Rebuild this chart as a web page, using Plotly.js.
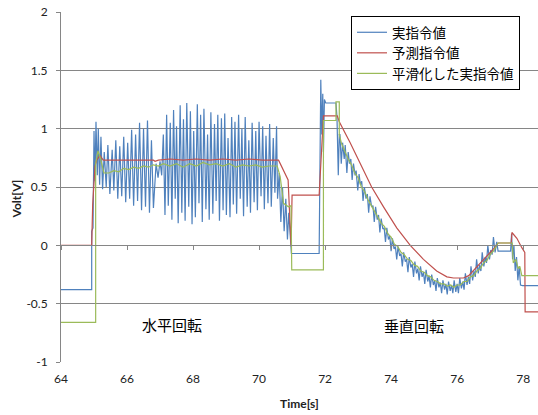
<!DOCTYPE html>
<html><head><meta charset="utf-8">
<script src="https://cdn.plot.ly/plotly-3.0.1.min.js"></script>
<style>html,body{margin:0;padding:0;background:#fff}#chart{width:538px;height:415px}</style>
</head><body><div id="chart"></div>
<script>
const seriesNames = ['実指令値', '予測指令値', '平滑化した実指令値'];
const seriesColors = ['#4F81BD', '#C0504D', '#9BBB59'];
const xTickVals = [64, 66, 68, 70, 72, 74, 76, 78];
const yTickVals = [-1, -0.5, 0, 0.5, 1, 1.5, 2];
const yTickText = ['-1', '-0.5', '0', '0.5', '1', '1.5', '2'];
const annotationTexts = ['水平回転', '垂直回転'];

// [time, volt]
const bluePoints = [
[64,-0.38],[64.93,-0.38],[64.93,0.12],[64.97,0.15],[65.0,0.98],
[65.03,0.55],[65.06,1.06],[65.10,0.60],[65.13,1.00],[65.17,0.52],[65.21,0.93],[65.26,0.48],[65.31,0.80],
[65.37,0.50],[65.42,0.86],[65.48,0.44],[65.55,0.82],[65.60,0.47],[65.66,0.90],[65.72,0.40],[65.78,0.85],
[65.84,0.42],[65.90,0.93],[65.96,0.37],[66.02,0.88],[66.08,0.40],[66.14,0.99],[66.20,0.34],[66.26,0.95],
[66.32,0.38],[66.38,1.05],[66.44,0.30],[66.50,1.00],[66.56,0.33],[66.62,1.07],[66.68,0.28],[66.74,0.90],
[66.80,0.32],[66.88,0.70],[66.94,0.58],[67.00,0.72],[67.05,0.60],[67.10,0.95],[67.15,0.26],
[67.20,1.12],[67.25,0.34],[67.31,1.05],[67.36,0.22],[67.41,1.16],[67.46,0.40],[67.50,1.02],[67.55,0.19],
[67.61,1.20],[67.66,0.28],[67.71,1.08],[67.76,0.21],[67.81,1.22],[67.87,0.33],[67.92,1.15],[67.97,0.18],
[68.02,0.98],[68.07,0.24],[68.13,1.21],[68.18,0.36],[68.23,1.12],[68.28,0.20],[68.33,1.17],[68.39,0.31],
[68.44,0.95],[68.49,0.22],[68.54,1.14],[68.60,0.27],[68.65,1.04],[68.70,0.38],[68.75,1.12],[68.80,0.21],
[68.86,1.09],[68.91,0.30],[68.96,1.13],[69.01,0.26],[69.06,0.92],[69.12,0.24],[69.17,1.10],[69.22,0.35],
[69.27,1.06],[69.32,0.27],[69.38,1.12],[69.43,0.40],[69.48,1.00],[69.53,0.25],[69.58,1.10],[69.64,0.33],
[69.69,0.90],[69.74,0.28],[69.79,1.05],[69.85,0.37],[69.90,0.98],[69.95,0.30],[70.00,1.06],[70.06,0.42],
[70.11,1.02],[70.16,0.31],[70.21,0.94],[70.27,0.36],[70.32,1.04],[70.37,0.33],[70.43,0.92],[70.48,0.45],
[70.53,1.02],[70.56,0.40],[70.61,0.62],[70.66,0.20],[70.71,0.50],[70.76,0.12],[70.81,0.40],[70.86,0.05],
[70.90,0.28],[70.95,0.00],[70.98,-0.07],[71.82,-0.07],
[71.85,1.20],[71.87,1.42],[71.90,0.95],[71.93,1.30],[71.95,0.80],[71.98,1.25],[72.02,1.22],[72.33,1.22],
[72.36,1.10],[72.40,0.60],[72.43,0.95],
[72.45,0.95],[72.49,0.70],[72.53,0.88],[72.58,0.74],[72.61,0.86],[72.66,0.62],[72.70,0.80],[72.74,0.70],
[72.78,0.74],[72.82,0.56],[72.86,0.70],[72.91,0.60],[72.94,0.64],[72.99,0.47],[73.03,0.61],[73.07,0.52],
[73.11,0.55],[73.15,0.38],[73.19,0.50],[73.24,0.40],[73.28,0.44],[73.32,0.28],[73.36,0.42],[73.41,0.33],
[73.45,0.34],[73.49,0.20],[73.53,0.33],[73.58,0.22],[73.62,0.26],[73.66,0.11],[73.70,0.23],[73.75,0.14],
[73.79,0.15],[73.83,0.03],[73.87,0.15],[73.92,0.05],[73.96,0.08],[74.00,-0.05],[74.04,0.06],[74.09,-0.03],
[74.13,-0.01],[74.17,-0.12],[74.21,-0.01],[74.26,-0.09],[74.30,-0.07],[74.34,-0.18],[74.38,-0.06],[74.43,-0.14],
[74.47,-0.12],[74.51,-0.23],[74.55,-0.10],[74.60,-0.19],[74.64,-0.16],[74.68,-0.27],[74.72,-0.14],[74.77,-0.24],
[74.81,-0.20],[74.85,-0.30],[74.89,-0.18],[74.94,-0.27],[74.98,-0.23],[75.02,-0.33],[75.06,-0.21],[75.11,-0.31],
[75.15,-0.26],[75.19,-0.36],[75.23,-0.25],[75.28,-0.34],[75.32,-0.30],[75.36,-0.39],[75.40,-0.28],[75.45,-0.36],
[75.49,-0.32],[75.53,-0.41],[75.57,-0.30],[75.62,-0.38],[75.66,-0.33],[75.70,-0.42],[75.74,-0.31],[75.79,-0.39],
[75.83,-0.34],[75.87,-0.41],[75.91,-0.30],[75.96,-0.40],[76.00,-0.33],[76.04,-0.41],[76.08,-0.28],[76.13,-0.37],
[76.17,-0.31],[76.21,-0.38],[76.25,-0.24],[76.30,-0.34],[76.34,-0.27],[76.38,-0.33],[76.42,-0.18],[76.47,-0.30],
[76.51,-0.22],[76.55,-0.27],[76.59,-0.12],[76.64,-0.24],[76.68,-0.17],[76.72,-0.22],[76.76,-0.06],[76.81,-0.18],
[76.85,-0.10],[76.89,-0.15],[76.93,0.00],[76.98,-0.12],[77.02,-0.04],[77.06,-0.08],[77.10,0.07],[77.15,-0.06],
[77.20,0.03],[77.24,-0.05],[77.62,-0.05],[77.65,0.10],[77.68,-0.12],[77.72,0.00],[77.76,-0.22],[77.80,-0.10],
[77.84,-0.30],[77.88,-0.18],[77.92,-0.34],[77.98,-0.345],[78.5,-0.345]
];

const redPoints = [
[64,0],[64.93,0],[64.96,0.35],[65.0,0.55],[65.03,0.68],[65.08,0.73],[65.18,0.77],[65.28,0.73],
[65.8,0.73],[66.3,0.73],[66.8,0.73],[66.85,0.72],[66.95,0.73],[67.3,0.74],[67.7,0.73],[68.1,0.74],
[68.5,0.73],[68.9,0.74],[69.3,0.73],[69.7,0.74],[70.1,0.73],[70.59,0.73],[70.84,0.58],[70.88,0.56],
[70.97,-0.01],[71.0,0.43],[71.82,0.43],[71.95,1.11],[72.37,1.11],[72.43,1.06],[72.76,0.88],[73.06,0.71],
[73.41,0.50],[73.77,0.33],[74.17,0.15],[74.58,0.00],[74.98,-0.12],[75.38,-0.22],[75.69,-0.27],[75.89,-0.28],
[76.19,-0.28],[76.35,-0.26],[76.55,-0.20],[76.8,-0.12],[77.0,-0.06],[77.2,0.0],[77.24,0.02],[77.64,0.02],
[77.66,0.11],[77.81,0.06],[77.96,-0.02],[78.05,-0.06],[78.06,-0.57],[78.5,-0.57]
];

const greenPoints = [
[64,-0.66],[65.05,-0.66],[65.05,0.70],[65.12,0.81],[65.2,0.74],[65.3,0.62],[65.45,0.62],[65.6,0.64],
[65.75,0.63],[65.9,0.66],[66.05,0.65],[66.2,0.67],[66.35,0.66],[66.5,0.68],[66.65,0.67],[66.8,0.69],
[66.95,0.68],[67.1,0.70],[67.3,0.68],[67.5,0.70],[67.7,0.67],[67.9,0.70],[68.1,0.68],[68.3,0.71],
[68.5,0.69],[68.7,0.70],[68.9,0.68],[69.1,0.70],[69.3,0.67],[69.5,0.69],[69.7,0.68],[69.9,0.69],
[70.1,0.67],[70.3,0.68],[70.55,0.68],[70.64,0.59],[70.74,0.36],[70.89,0.33],[70.97,0.34],[70.99,-0.21],
[71.95,-0.21],[71.95,1.07],[72.33,1.07],[72.33,1.23],[72.43,1.23],[72.43,0.95],
[72.5,0.87],[72.6,0.80],[72.7,0.74],[72.8,0.69],[72.9,0.62],[73.0,0.58],[73.1,0.50],[73.2,0.46],
[73.3,0.39],[73.4,0.34],[73.5,0.29],[73.6,0.25],[73.7,0.19],[73.8,0.16],[73.9,0.10],[74.0,0.07],
[74.1,0.01],[74.2,-0.01],[74.3,-0.06],[74.4,-0.08],[74.5,-0.12],[74.6,-0.13],[74.7,-0.17],[74.8,-0.18],
[74.9,-0.22],[75.0,-0.23],[75.1,-0.26],[75.2,-0.27],[75.3,-0.30],[75.4,-0.31],[75.5,-0.33],[75.6,-0.33],
[75.7,-0.35],[75.8,-0.34],[75.9,-0.36],[76.0,-0.34],[76.1,-0.34],[76.2,-0.31],[76.3,-0.31],[76.4,-0.27],
[76.5,-0.26],[76.6,-0.22],[76.7,-0.20],[76.8,-0.15],[76.9,-0.13],[77.0,-0.08],[77.1,-0.05],[77.2,0.00],
[77.24,0.02],[77.67,0.02],[77.70,-0.15],[77.78,-0.12],[77.85,-0.20],[77.90,-0.18],[77.96,-0.26],[78.5,-0.26]
];

const allSeries = [bluePoints, redPoints, greenPoints];
const traces = allSeries.map((pts, i) => ({
  type: 'scatter', mode: 'lines',
  x: pts.map(p => p[0]), y: pts.map(p => p[1]),
  name: seriesNames[i],
  line: {color: seriesColors[i], width: 1.2},
  hoverinfo: 'skip'
}));
traces.push({type: 'scatter', mode: 'lines', x: [], y: [], xaxis: 'x2', showlegend: false, hoverinfo: 'skip'});

const gray = '#868686';
const layout = {
  width: 538, height: 415,
  margin: {l: 61, r: 0, t: 12, b: 53, pad: 0},
  paper_bgcolor: '#fff', plot_bgcolor: '#fff',
  font: {family: 'Lato, "Noto Sans CJK JP", sans-serif', size: 12, color: '#222'},
  showlegend: true,
  legend: {
    x: (351 - 61) / 477, y: (362 - 16) / 350, xanchor: 'left', yanchor: 'top',
    bgcolor: '#fff', bordercolor: '#000', borderwidth: 1,
    font: {family: '"Noto Sans CJK JP", sans-serif', size: 13.5, color: '#000'},
    tracegroupgap: 0
  },
  xaxis: {
    range: [64, 78.45], tickvals: xTickVals, ticktext: xTickVals.map(String),
    showgrid: false, zeroline: false, showline: false, ticks: '',
    tickfont: {size: 12, color: '#222'}, ticklabelstandoff: 8
  },
  xaxis2: {
    overlaying: 'x', anchor: 'free', position: 1 / 3, side: 'bottom',
    range: [64, 78.45], tickvals: xTickVals, showticklabels: false,
    ticks: 'outside', ticklen: 4, tickcolor: gray, showline: true, linecolor: gray, linewidth: 1,
    showgrid: false, zeroline: false
  },
  yaxis: {
    range: [-1, 2], tickvals: yTickVals, ticktext: yTickText,
    showgrid: true, gridcolor: gray, gridwidth: 1, zeroline: false,
    showline: true, linecolor: gray, ticks: 'outside', ticklen: 4, tickcolor: gray,
    tickfont: {size: 12, color: '#222'}, ticklabelstandoff: 6
  },
  annotations: [
    {xref: 'paper', yref: 'paper', x: 0, y: (362 - 199) / 350, xshift: -45.5, xanchor: 'center', yanchor: 'middle',
     text: '<b>Volt[V]</b>', textangle: -90, showarrow: false, font: {size: 12, color: '#222'}},
    {xref: 'paper', yref: 'paper', x: 0.5, y: 0, yshift: -41, xanchor: 'center', yanchor: 'middle',
     text: '<b>Time[s]</b>', showarrow: false, font: {size: 12, color: '#222'}},
    {xref: 'x', yref: 'y', x: 67.36, y: -0.68, text: annotationTexts[0], showarrow: false,
     font: {family: '"Noto Sans CJK JP", sans-serif', size: 15, color: '#000'}},
    {xref: 'x', yref: 'y', x: 74.7, y: -0.69, text: annotationTexts[1], showarrow: false,
     font: {family: '"Noto Sans CJK JP", sans-serif', size: 15, color: '#000'}}
  ]
};
Plotly.newPlot('chart', traces, layout, {staticPlot: true, displayModeBar: false});
</script>
</body></html>
